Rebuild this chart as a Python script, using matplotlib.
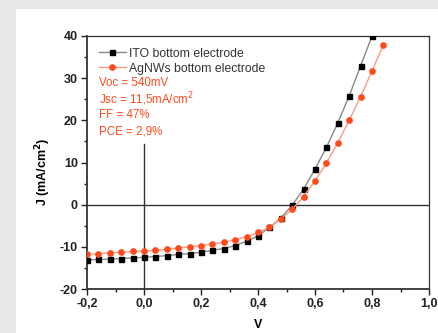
import matplotlib.pyplot as plt
from matplotlib.patches import Rectangle
from matplotlib.ticker import MultipleLocator, FuncFormatter

# J-V data
v_ito = [-0.20, -0.16, -0.12, -0.08, -0.04, 0.00, 0.04, 0.08, 0.12, 0.16, 0.20,
         0.24, 0.28, 0.32, 0.36, 0.40, 0.44, 0.48, 0.52, 0.56, 0.60, 0.64,
         0.68, 0.72, 0.76, 0.80]
j_ito = [-13.1, -13.0, -12.9, -12.8, -12.6, -12.5, -12.3, -12.1, -11.8, -11.6, -11.3,
         -10.8, -10.4, -9.7, -8.65, -7.4, -5.4, -3.2, -0.1, 3.7, 8.4,
         13.6, 19.4, 25.8, 32.9, 40.0]

v_ag = [-0.20, -0.16, -0.12, -0.08, -0.04, 0.00, 0.04, 0.08, 0.12, 0.16, 0.20,
        0.24, 0.28, 0.32, 0.36, 0.40, 0.44, 0.48, 0.52, 0.56, 0.60, 0.64,
        0.68, 0.72, 0.76, 0.80, 0.84]
j_ag = [-11.8, -11.65, -11.4, -11.3, -11.1, -10.95, -10.8, -10.6, -10.3, -10.0, -9.7,
        -9.35, -8.9, -8.3, -7.6, -6.6, -5.4, -3.4, -1.1, 1.9, 5.6,
        9.9, 14.7, 20.0, 25.6, 31.7, 37.9]

labels = ['ITO bottom electrode', 'AgNWs bottom electrode']
notes = ['Voc = 540mV', 'Jsc = 11,5mA/cm$^2$', 'FF = 47%', 'PCE = 2,9%']

red = '#ff4a1c'
plt.rcParams['font.family'] = ['Liberation Sans', 'DejaVu Sans']

fig = plt.figure(figsize=(4.39, 3.33), dpi=100)
fig.patch.set_facecolor('#e8e8e8')
fig.patches.append(Rectangle((16 / 439, 0), 1, 1 - 9 / 333, transform=fig.transFigure,
                             facecolor='white', edgecolor='none', zorder=-5))

ax = fig.add_axes([87 / 439, 44 / 333, 342 / 439, 253 / 333])
ax.set_facecolor('white')

ax.axhline(0, color='#333333', lw=1.0, zorder=1)
ax.plot([0, 0], [-20, 14.5], color='#333333', lw=1.0, zorder=1)

ax.plot(v_ito, j_ito, color='#888888', lw=1.0, marker='s', ms=3.6,
        mfc='black', mec='black', label=labels[0], zorder=3)
ax.plot(v_ag, j_ag, color='#ff9a80', lw=1.0, marker='o', ms=3.8,
        mfc=red, mec=red, label=labels[1], zorder=3)

ax.set_xlim(-0.2, 1.0)
ax.set_ylim(-20, 40)
ax.xaxis.set_major_locator(MultipleLocator(0.2))
ax.xaxis.set_minor_locator(MultipleLocator(0.1))
ax.yaxis.set_major_locator(MultipleLocator(10))
ax.yaxis.set_minor_locator(MultipleLocator(5))
ax.xaxis.set_major_formatter(FuncFormatter(lambda x, p: f'{x:.1f}'.replace('.', ',').replace('-0,0', '0,0')))
ax.yaxis.set_major_formatter(FuncFormatter(lambda y, p: f'{y:.0f}'))

ax.tick_params(which='both', direction='out', labelsize=9, width=1.0, colors='#222222')
ax.tick_params(which='major', length=4, pad=2.5)
ax.tick_params(which='minor', length=2.5)
for lab in ax.get_xticklabels() + ax.get_yticklabels():
    lab.set_fontweight('bold')

for side in ['left', 'bottom']:
    ax.spines[side].set_linewidth(1.3)
for side in ['top', 'right']:
    ax.spines[side].set_linewidth(0.9)
for s in ax.spines.values():
    s.set_color('#333333')

ax.set_xlabel('V', fontsize=9, fontweight='bold')
ax.set_ylabel('J (mA/cm$^\\mathbf{2}$)', fontsize=9, fontweight='bold')
ax.xaxis.set_label_coords(0.5, -0.12)
ax.yaxis.set_label_coords(-0.10, 0.465)

leg = ax.legend(loc='upper left', bbox_to_anchor=(0.0, 1.0), frameon=False, fontsize=8.8,
                handlelength=2.2, handletextpad=0.3, labelspacing=0.25, borderaxespad=0.55)
for t in leg.get_texts():
    t.set_color('#333333')

for i, s in enumerate(notes):
    ax.text(0.035, 0.815 - i * 0.064, s, transform=ax.transAxes, color=red, fontsize=8.3,
            va='center', ha='left')

fig.savefig('out.png', dpi=100, facecolor=fig.get_facecolor())
